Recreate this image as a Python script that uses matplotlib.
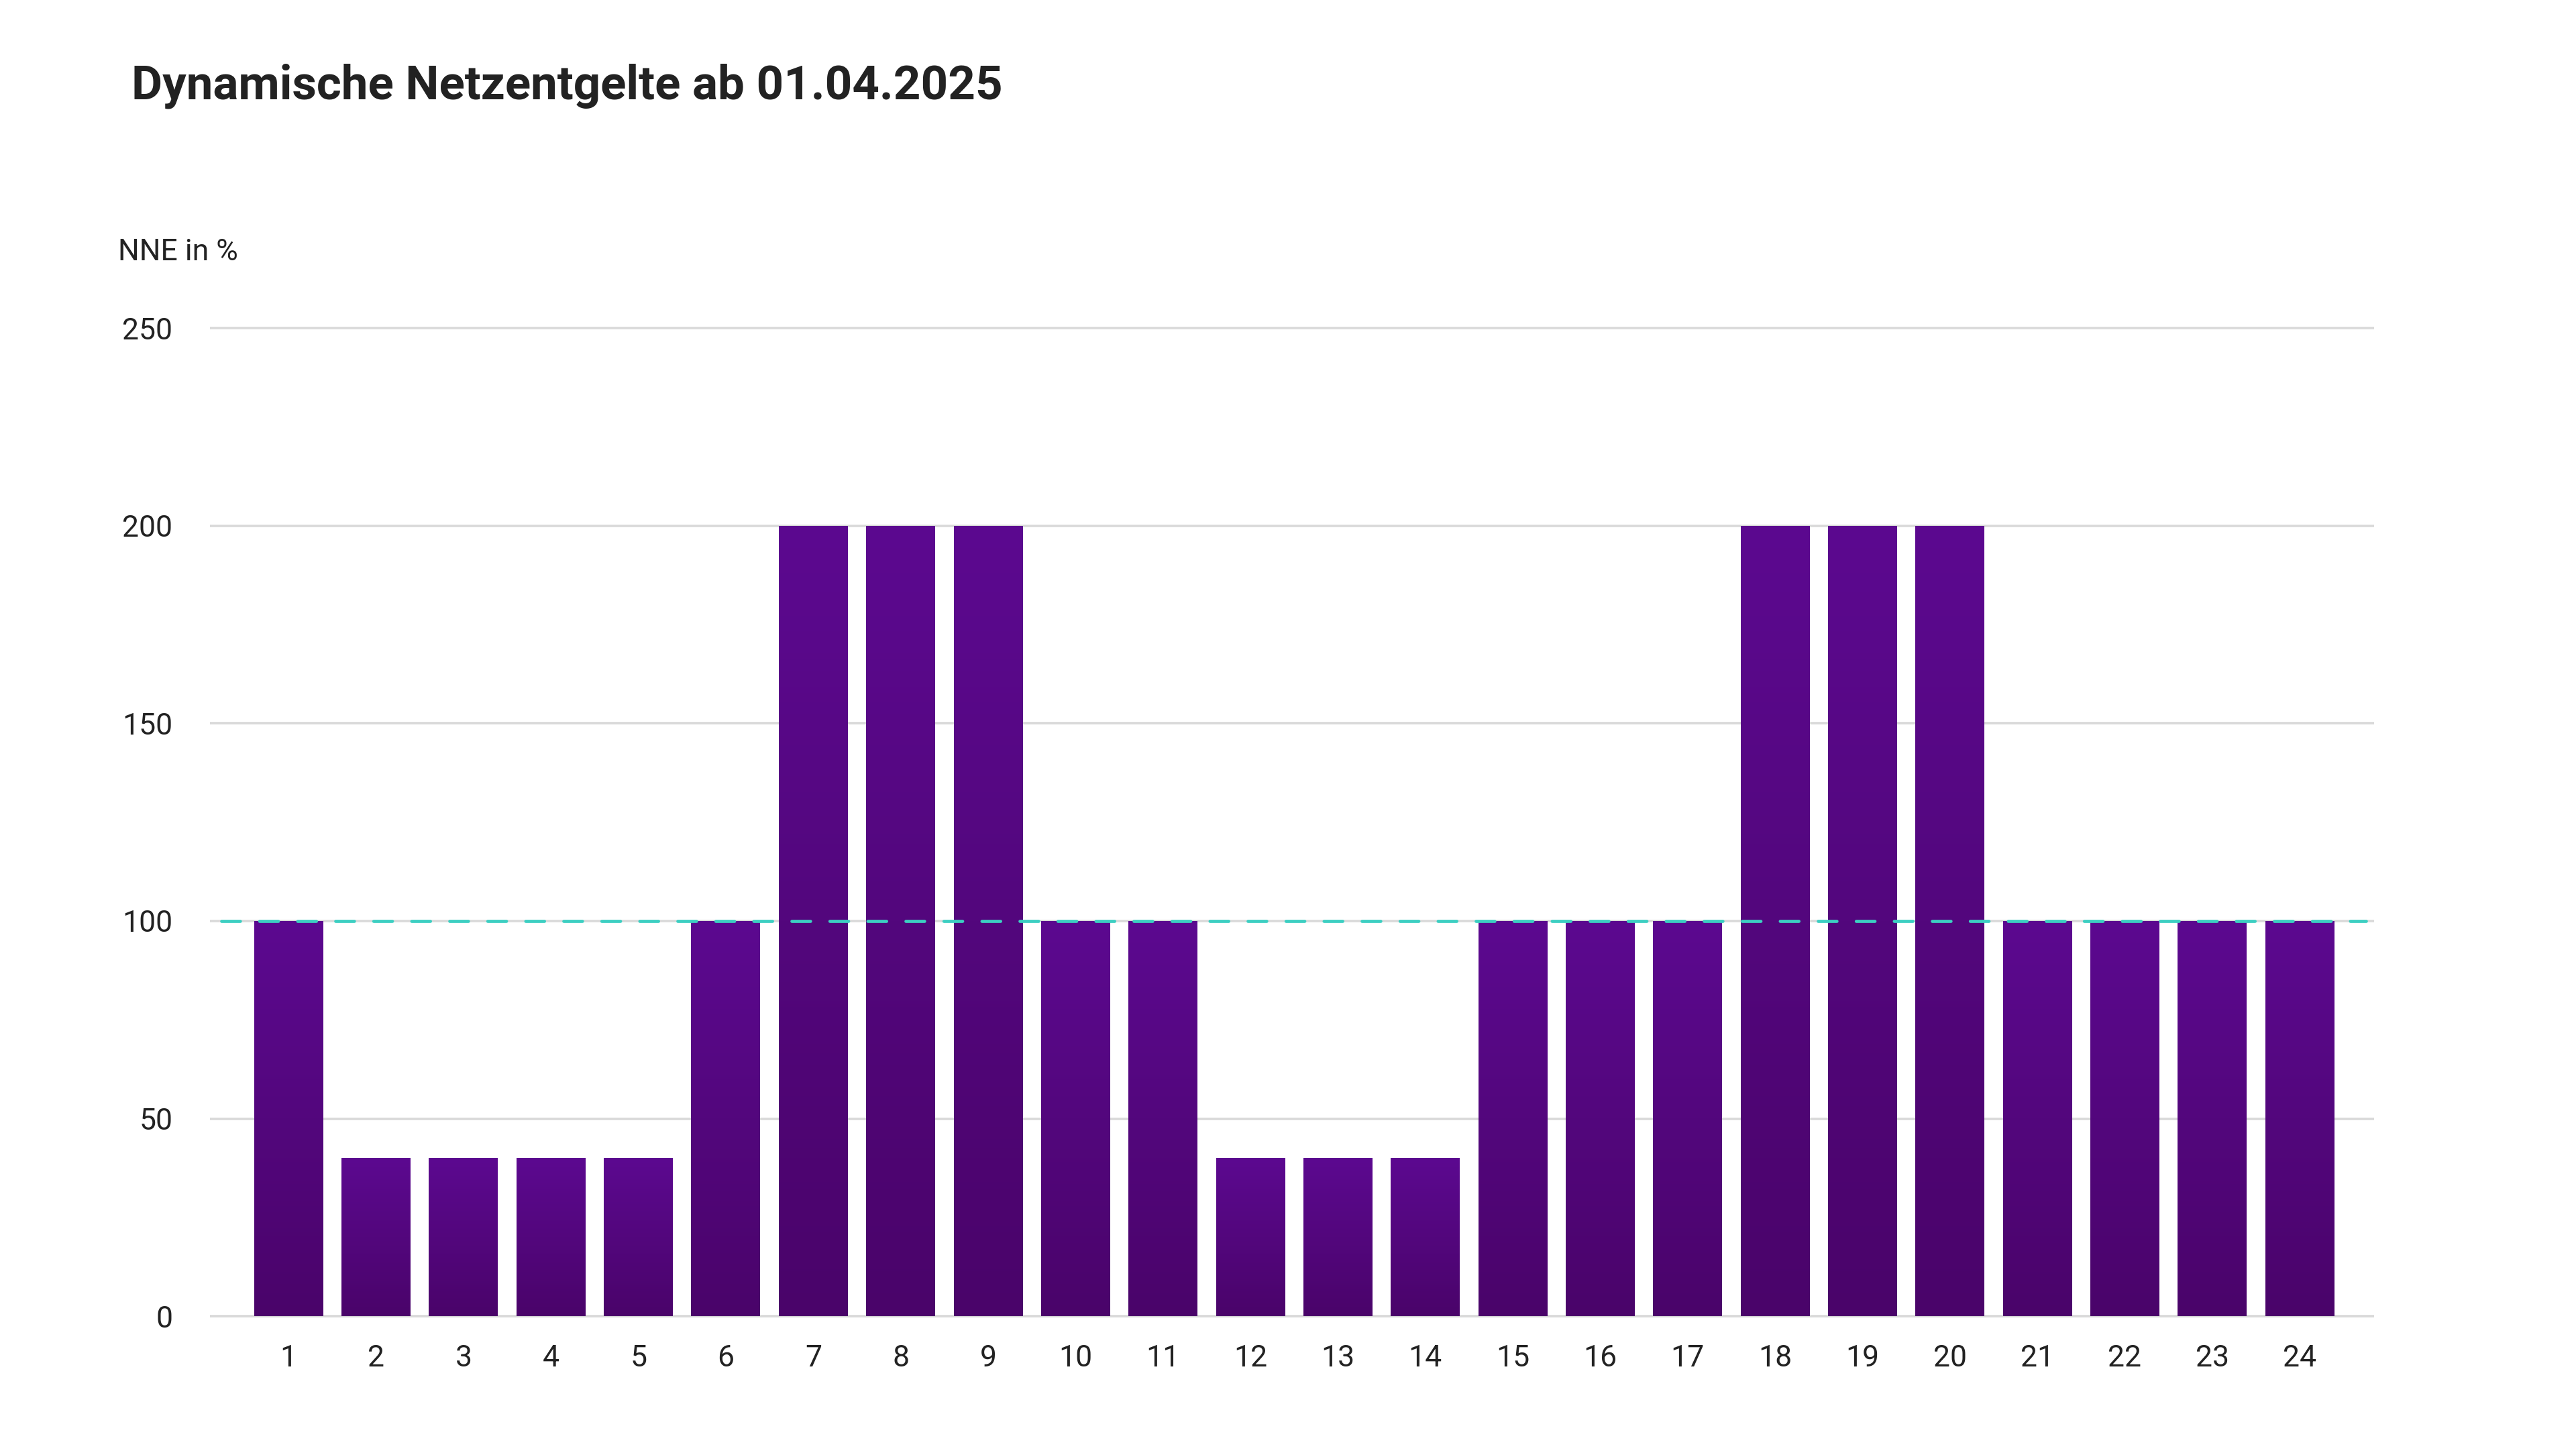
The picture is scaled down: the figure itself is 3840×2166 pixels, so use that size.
import matplotlib
matplotlib.use("Agg")
import matplotlib.pyplot as plt
import numpy as np
from matplotlib.colors import LinearSegmentedColormap

hours = list(range(1, 25))
nne_values = [100, 40, 40, 40, 40, 100, 200, 200, 200, 100, 100, 40,
              40, 40, 100, 100, 100, 200, 200, 200, 100, 100, 100, 100]
reference_level = 100
y_ticks = [0, 50, 100, 150, 200, 250]
title = "Dynamische Netzentgelte ab 01.04.2025"
y_label = "NNE in %"

plt.rcParams['font.family'] = ['Roboto', 'DejaVu Sans']

W, H = 3840, 2166
DPI = 100
fig = plt.figure(figsize=(W / DPI, H / DPI), dpi=DPI)
fig.patch.set_facecolor("white")

ax = fig.add_axes([0.0815, 0.0887, 0.8401, 0.699])
ax.set_xlim(0.1, 24.85)
ax.set_ylim(-2, 255)

for s in ax.spines.values():
    s.set_visible(False)

ax.set_yticks(y_ticks)
ax.set_xticks(hours)
ax.set_xticklabels([str(h) for h in hours])
ax.tick_params(axis='both', length=0, labelsize=32, labelcolor="#222222")
ax.tick_params(axis='y', pad=40)
ax.tick_params(axis='x', pad=22)
ax.yaxis.grid(True, color="#D9D9D9", linewidth=2.6)
ax.set_axisbelow(True)

bars = ax.bar(hours, nne_values, width=0.79, color="none", edgecolor="none", zorder=2)

cmap = LinearSegmentedColormap.from_list("purp", ["#4A046A", "#5C0990"])
grad = np.linspace(0, 1, 256).reshape(-1, 1)
for b in bars:
    x0 = b.get_x()
    x1 = x0 + b.get_width()
    h = b.get_height()
    im = ax.imshow(grad, cmap=cmap, aspect='auto', origin='lower',
                   extent=(x0, x1, 0, h), zorder=2, interpolation='bilinear')
    im.set_clip_path(b)

ax.set_xlim(0.1, 24.85)
ax.set_ylim(-2, 255)

ax.hlines(reference_level, 0.23, 24.76, colors="#3CCFC2", linewidth=3.4,
          linestyles=(0, (5.9, 6.1)), zorder=3, capstyle='round')

fig.text(0.051, 0.932, title, fontsize=51, fontweight='bold', color="#222222",
         ha='left', va='baseline')
fig.text(0.0458, 0.821, y_label, fontsize=32, color="#222222",
         ha='left', va='baseline')

fig.savefig("out.png", dpi=DPI, facecolor="white")
